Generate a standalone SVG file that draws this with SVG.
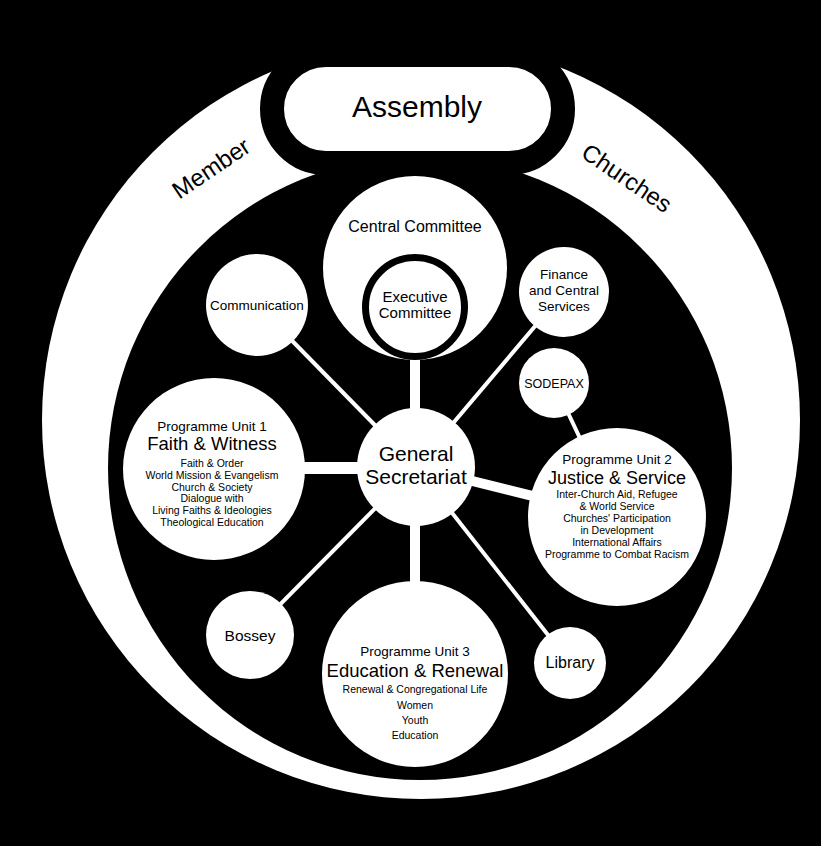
<svg xmlns="http://www.w3.org/2000/svg" width="821" height="846" viewBox="0 0 821 846">
<style>
.t{font-family:"Liberation Sans",Arial,Helvetica,sans-serif;fill:#000;text-anchor:middle}
.n{fill:#fff}
.ln{stroke:#fff;stroke-linecap:butt;fill:none}
</style>
<rect x="0" y="0" width="821" height="846" fill="#000"/>
<g id="member-churches-ring">
<circle cx="421" cy="420" r="379" fill="#fff"/>
<circle cx="420" cy="468" r="312" fill="#000"/>
<rect x="300" y="0" width="240" height="62" fill="#000"/>
<text class="t" font-size="24" transform="translate(211,168) rotate(-34)" x="0" y="8.5">Member</text>
<text class="t" font-size="24" transform="translate(627,178) rotate(34)" x="0" y="8.5">Churches</text>
</g>
<g id="assembly">
<rect x="272" y="55" width="291" height="108" rx="54" ry="54" fill="#fff" stroke="#000" stroke-width="24"/>
<text class="t" x="417" y="117" font-size="30">Assembly</text>
</g>
<g id="connectors">
<line class="ln" x1="257" y1="305" x2="416" y2="467" stroke-width="4"/>
<line class="ln" x1="564" y1="292" x2="416" y2="467" stroke-width="4"/>
<line class="ln" x1="250" y1="635" x2="416" y2="467" stroke-width="4"/>
<line class="ln" x1="570" y1="663" x2="416" y2="467" stroke-width="4"/>
<line class="ln" x1="554" y1="383" x2="617" y2="517" stroke-width="4"/>
<line class="ln" x1="415" y1="350" x2="415" y2="420" stroke-width="10"/>
<line class="ln" x1="415" y1="510" x2="415" y2="595" stroke-width="10"/>
<line class="ln" x1="290" y1="468" x2="370" y2="468" stroke-width="12"/>
<line class="ln" x1="416" y1="467" x2="617" y2="517" stroke-width="10"/>
</g>
<g id="central-committee">
<circle class="n" cx="415" cy="268" r="92"/>
<text class="t" x="415" y="232" font-size="16">Central Committee</text>
</g>
<g id="executive-committee">
<circle cx="415" cy="307" r="49.5" fill="#fff" stroke="#000" stroke-width="7"/>
<text class="t" x="415" y="302" font-size="15">Executive</text>
<text class="t" x="415" y="318" font-size="15">Committee</text>
</g>
<g id="communication">
<circle class="n" cx="257" cy="305" r="51"/>
<text class="t" x="257" y="310" font-size="13.5">Communication</text>
</g>
<g id="finance">
<circle class="n" cx="564" cy="292" r="45"/>
<text class="t" x="564" y="279" font-size="13.5">Finance</text>
<text class="t" x="564" y="295" font-size="13.5">and Central</text>
<text class="t" x="564" y="311" font-size="13.5">Services</text>
</g>
<g id="sodepax">
<circle class="n" cx="554" cy="383" r="35"/>
<text class="t" x="554" y="388" font-size="12.5">SODEPAX</text>
</g>
<g id="general-secretariat">
<circle class="n" cx="416" cy="467" r="59"/>
<text class="t" x="416" y="461" font-size="21">General</text>
<text class="t" x="416" y="484" font-size="21">Secretariat</text>
</g>
<g id="unit1">
<circle class="n" cx="214" cy="469" r="91"/>
<text class="t" x="212" y="431" font-size="13.5">Programme Unit 1</text>
<text class="t" x="212" y="450" font-size="18.5">Faith &amp; Witness</text>
<text class="t" x="212" y="467" font-size="10.5">Faith &amp; Order</text>
<text class="t" x="212" y="478.8" font-size="10.5">World Mission &amp; Evangelism</text>
<text class="t" x="212" y="490.6" font-size="10.5">Church &amp; Society</text>
<text class="t" x="212" y="502.4" font-size="10.5">Dialogue with</text>
<text class="t" x="212" y="514.2" font-size="10.5">Living Faiths &amp; Ideologies</text>
<text class="t" x="212" y="526" font-size="10.5">Theological Education</text>
</g>
<g id="unit2">
<circle class="n" cx="617" cy="517" r="89"/>
<text class="t" x="617" y="464" font-size="13.5">Programme Unit 2</text>
<text class="t" x="617" y="484" font-size="18">Justice &amp; Service</text>
<text class="t" x="617" y="498" font-size="10.5">Inter-Church Aid, Refugee</text>
<text class="t" x="617" y="510" font-size="10.5">&amp; World Service</text>
<text class="t" x="617" y="522" font-size="10.5">Churches' Participation</text>
<text class="t" x="617" y="534" font-size="10.5">in Development</text>
<text class="t" x="617" y="546" font-size="10.5">International Affairs</text>
<text class="t" x="617" y="558" font-size="10.5">Programme to Combat Racism</text>
</g>
<g id="bossey">
<circle class="n" cx="250" cy="635" r="44"/>
<text class="t" x="250" y="641" font-size="15.5">Bossey</text>
</g>
<g id="unit3">
<circle class="n" cx="415" cy="674" r="93"/>
<text class="t" x="415" y="656" font-size="13.5">Programme Unit 3</text>
<text class="t" x="415" y="677" font-size="18.5">Education &amp; Renewal</text>
<text class="t" x="415" y="693" font-size="10.5">Renewal &amp; Congregational Life</text>
<text class="t" x="415" y="709" font-size="10.5">Women</text>
<text class="t" x="415" y="724" font-size="10.5">Youth</text>
<text class="t" x="415" y="739" font-size="10.5">Education</text>
</g>
<g id="library">
<circle class="n" cx="570" cy="663" r="36"/>
<text class="t" x="570" y="668" font-size="16">Library</text>
</g>
</svg>
